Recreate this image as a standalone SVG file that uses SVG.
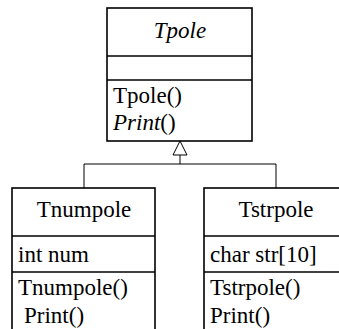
<svg xmlns="http://www.w3.org/2000/svg" width="339" height="329" viewBox="0 0 339 329">
<rect width="339" height="329" fill="#fff"/>
<g id="connectors" fill="none" stroke="#000" stroke-width="1">
<polyline points="84,188 84,164 276,164 276,188"/>
<line x1="180" y1="164" x2="180" y2="155"/>
<polygon fill="#fff" points="180,141 173,155 187,155"/>
</g>
<g id="Tpole">
<rect x="107" y="8" width="145" height="133" fill="#fff" stroke="#000" stroke-width="1.6"/>
<line x1="107" y1="56" x2="252" y2="56" stroke="#000" stroke-width="1.6"/>
<line x1="107" y1="80" x2="252" y2="80" stroke="#000" stroke-width="1.6"/>
</g>
<g id="Tnumpole">
<rect x="12" y="188" width="143" height="150" fill="#fff" stroke="#000" stroke-width="1.6"/>
<line x1="12" y1="236" x2="155" y2="236" stroke="#000" stroke-width="1.6"/>
<line x1="12" y1="272" x2="155" y2="272" stroke="#000" stroke-width="1.6"/>
</g>
<g id="Tstrpole">
<rect x="204" y="188" width="145" height="150" fill="#fff" stroke="#000" stroke-width="1.6"/>
<line x1="204" y1="236" x2="349" y2="236" stroke="#000" stroke-width="1.6"/>
<line x1="204" y1="272" x2="349" y2="272" stroke="#000" stroke-width="1.6"/>
</g>
<text x="180" y="38" font-size="23" font-family="Liberation Serif" font-style="italic" text-anchor="middle">Tpole</text>
<text x="113" y="103" font-size="23" font-family="Liberation Serif">Tpole()</text>
<text x="113" y="130" font-size="23" font-family="Liberation Serif"><tspan font-style="italic">Print</tspan>()</text>
<text x="84" y="217" font-size="23" font-family="Liberation Serif" text-anchor="middle">Tnumpole</text>
<text x="18" y="262" font-size="23" font-family="Liberation Serif">int num</text>
<text x="18" y="295" font-size="23" font-family="Liberation Serif">Tnumpole()</text>
<text x="24" y="323" font-size="23" font-family="Liberation Serif">Print()</text>
<text x="276" y="217" font-size="23" font-family="Liberation Serif" text-anchor="middle">Tstrpole</text>
<text x="210" y="262" font-size="23" font-family="Liberation Serif">char str[10]</text>
<text x="210" y="295" font-size="23" font-family="Liberation Serif">Tstrpole()</text>
<text x="210" y="323" font-size="23" font-family="Liberation Serif">Print()</text>
</svg>
